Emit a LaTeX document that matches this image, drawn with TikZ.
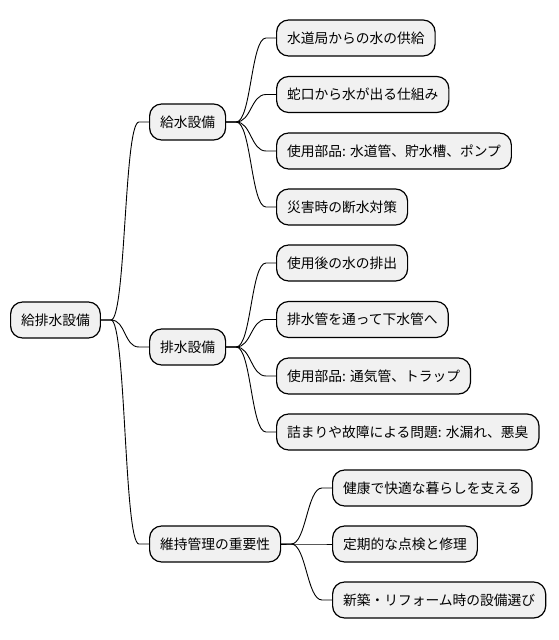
\documentclass[tikz,border=0pt]{standalone}
\usepackage{fontspec}
\setmainfont{Noto Sans CJK JP}
\definecolor{boxfill}{HTML}{F1F1F1}
\begin{document}
\begin{tikzpicture}[x=1pt,y=-1pt]

    \tikzset{
      topic/.style={
        draw,
        line width=1.2pt,
        fill=boxfill,
        rounded corners=12pt,
        anchor=west,
        minimum height=36pt,
        inner xsep=10.5pt,
        inner ysep=0pt,
        font=\fontsize{13.75}{16}\selectfont,
      },
      branch/.style={line width=0.9pt, black},
    }
    \useasboundingbox (0,0) rectangle (558,640);

	\node[topic] (root) at (10,320) {給排水設備};

	\node[topic] (supply) at (149,122) {給水設備};
	\node[topic] (drain) at (149,347) {排水設備};
	\node[topic] (upkeep) at (149,544) {維持管理の重要性};

	\node[topic] (s1) at (276,38) {水道局からの水の供給};
	\node[topic] (s2) at (276,94.5) {蛇口から水が出る仕組み};
	\node[topic] (s3) at (276,151) {使用部品: 水道管、貯水槽、ポンプ};
	\node[topic] (s4) at (276,207) {災害時の断水対策};

	\node[topic] (d1) at (276,263) {使用後の水の排出};
	\node[topic] (d2) at (276,319.5) {排水管を通って下水管へ};
	\node[topic] (d3) at (276,376) {使用部品: 通気管、トラップ};
	\node[topic] (d4) at (276,432) {詰まりや故障による問題: 水漏れ、悪臭};

	\node[topic] (u1) at (332,488) {健康で快適な暮らしを支える};
	\node[topic] (u2) at (332,544) {定期的な点検と修理};
	\node[topic] (u3) at (332,600) {新築・リフォーム時の設備選び};

	\foreach \a/\b in {root/supply,root/drain,root/upkeep,
	                   supply/s1,supply/s2,supply/s3,supply/s4,
	                   drain/d1,drain/d2,drain/d3,drain/d4,
	                   upkeep/u1,upkeep/u2,upkeep/u3}
	  \draw[branch] (\a.east) -- ++(10,0)
	    .. controls +(15,0) and +(-15,0) .. ([xshift=-10pt]\b.west) -- (\b.west);

\end{tikzpicture}
\end{document}
